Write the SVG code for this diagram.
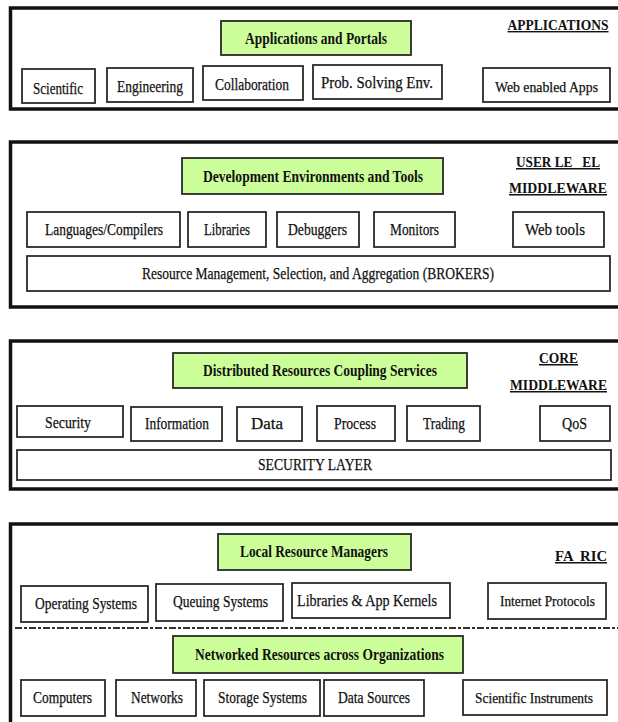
<svg xmlns="http://www.w3.org/2000/svg" width="618" height="722" viewBox="0 0 618 722">
<style>
.bg{fill:#ffffff}
.frame{fill:none;stroke:#111;stroke-width:3.5}
.box{fill:#ffffff;stroke:#2a2a2a;stroke-width:1.8}
.hl{fill:#ccff99;stroke:#2a2a2a;stroke-width:1.8}
text{text-anchor:middle}
.t{font-family:"Liberation Serif","Times New Roman",serif;font-size:17px;fill:#111;stroke:#111;stroke-width:0.25}
.tb{font-family:"Liberation Serif","Times New Roman",serif;font-size:16px;font-weight:bold;fill:#111}
.side{font-family:"Liberation Serif","Times New Roman",serif;font-size:15px;font-weight:bold;fill:#111;text-decoration:underline}
.sm{font-size:15px}
.sm14{font-size:14px}
.sep{stroke:#333;stroke-width:2.2;stroke-dasharray:7 2 3 2}
</style>
<rect class="bg" x="0" y="0" width="618" height="722"/>

<!-- Layer 1: Applications -->
<g id="layer-applications">
  <rect class="frame" x="10.5" y="8" width="615" height="101"/>
  <text class="side sm14" x="558" y="30" textLength="101" lengthAdjust="spacingAndGlyphs">APPLICATIONS</text>
</g>
<g id="applications-portals"><rect class="hl" x="221" y="21" width="190" height="34"/><text class="tb" x="316" y="44" textLength="142" lengthAdjust="spacingAndGlyphs">Applications and Portals</text></g>
<g id="scientific"><rect class="box" x="22" y="69" width="73" height="34"/><text class="t" x="58" y="94" textLength="50" lengthAdjust="spacingAndGlyphs">Scientific</text></g>
<g id="engineering"><rect class="box" x="107" y="68" width="86" height="34"/><text class="t" x="150" y="92" textLength="66" lengthAdjust="spacingAndGlyphs">Engineering</text></g>
<g id="collaboration"><rect class="box" x="203" y="66" width="100" height="34"/><text class="t" x="252" y="90" textLength="74" lengthAdjust="spacingAndGlyphs">Collaboration</text></g>
<g id="prob-solving"><rect class="box" x="313" y="65" width="129" height="34"/><text class="t" x="377" y="88" textLength="112" lengthAdjust="spacingAndGlyphs">Prob. Solving Env.</text></g>
<g id="web-apps"><rect class="box" x="483" y="68" width="127" height="34"/><text class="t sm" x="546.5" y="92" textLength="103" lengthAdjust="spacingAndGlyphs">Web enabled Apps</text></g>

<!-- Layer 2: User level middleware -->
<g id="layer-user-middleware">
  <rect class="frame" x="10.5" y="142" width="615" height="165"/>
  <text class="side" x="558" y="167" textLength="84" lengthAdjust="spacingAndGlyphs" xml:space="preserve">USER LE   EL</text>
  <text class="side" x="558" y="193" textLength="98" lengthAdjust="spacingAndGlyphs">MIDDLEWARE</text>
</g>
<g id="dev-env"><rect class="hl" x="182" y="158" width="261" height="36"/><text class="tb" x="313" y="182" textLength="220" lengthAdjust="spacingAndGlyphs">Development Environments and Tools</text></g>
<g id="languages"><rect class="box" x="27" y="212" width="153" height="35"/><text class="t" x="104" y="235" textLength="118" lengthAdjust="spacingAndGlyphs">Languages/Compilers</text></g>
<g id="libraries"><rect class="box" x="188" y="212" width="78" height="35"/><text class="t" x="227" y="235" textLength="46" lengthAdjust="spacingAndGlyphs">Libraries</text></g>
<g id="debuggers"><rect class="box" x="277" y="212" width="82" height="35"/><text class="t" x="317.5" y="235" textLength="59" lengthAdjust="spacingAndGlyphs">Debuggers</text></g>
<g id="monitors"><rect class="box" x="374" y="212" width="81" height="35"/><text class="t" x="414.5" y="235" textLength="49" lengthAdjust="spacingAndGlyphs">Monitors</text></g>
<g id="web-tools"><rect class="box" x="513" y="212" width="91" height="35"/><text class="t" x="555" y="235" textLength="60" lengthAdjust="spacingAndGlyphs">Web tools</text></g>
<g id="brokers"><rect class="box" x="27" y="256" width="583" height="35"/><text class="t" x="318" y="279" textLength="352" lengthAdjust="spacingAndGlyphs">Resource Management, Selection, and Aggregation (BROKERS)</text></g>

<!-- Layer 3: Core middleware -->
<g id="layer-core-middleware">
  <rect class="frame" x="10.5" y="341" width="615" height="148"/>
  <text class="side" x="558.5" y="363" textLength="39" lengthAdjust="spacingAndGlyphs">CORE</text>
  <text class="side" x="558.5" y="390" textLength="97" lengthAdjust="spacingAndGlyphs">MIDDLEWARE</text>
</g>
<g id="coupling-services"><rect class="hl" x="173" y="353" width="294" height="35"/><text class="tb" x="320" y="376" textLength="234" lengthAdjust="spacingAndGlyphs">Distributed Resources Coupling Services</text></g>
<g id="security"><rect class="box" x="17" y="406" width="106" height="31"/><text class="t" x="68" y="428" textLength="46" lengthAdjust="spacingAndGlyphs">Security</text></g>
<g id="information"><rect class="box" x="131" y="407" width="91" height="34"/><text class="t" x="177" y="429" textLength="64" lengthAdjust="spacingAndGlyphs">Information</text></g>
<g id="data"><rect class="box" x="237" y="407" width="65" height="34"/><text class="t" x="267" y="429" textLength="32" lengthAdjust="spacingAndGlyphs">Data</text></g>
<g id="process"><rect class="box" x="317" y="406" width="78" height="35"/><text class="t" x="355" y="429" textLength="42" lengthAdjust="spacingAndGlyphs">Process</text></g>
<g id="trading"><rect class="box" x="407" y="406" width="73" height="35"/><text class="t" x="444" y="429" textLength="42" lengthAdjust="spacingAndGlyphs">Trading</text></g>
<g id="qos"><rect class="box" x="540" y="406" width="70" height="35"/><text class="t" x="574.5" y="429" textLength="25" lengthAdjust="spacingAndGlyphs">QoS</text></g>
<g id="security-layer"><rect class="box" x="17" y="450" width="594" height="30"/><text class="t" x="315" y="470" textLength="114" lengthAdjust="spacingAndGlyphs">SECURITY LAYER</text></g>

<!-- Layer 4: Fabric -->
<g id="layer-fabric">
  <rect class="frame" x="10.5" y="524" width="615" height="210"/>
  <text class="side" x="581" y="561" textLength="52" lengthAdjust="spacingAndGlyphs" xml:space="preserve">FA  RIC</text>
</g>
<g id="local-resource-managers"><rect class="hl" x="218" y="534" width="193" height="36"/><text class="tb" x="314" y="557" textLength="148" lengthAdjust="spacingAndGlyphs">Local Resource Managers</text></g>
<g id="operating-systems"><rect class="box" x="21" y="586" width="127" height="36"/><text class="t" x="86" y="609" textLength="102" lengthAdjust="spacingAndGlyphs">Operating Systems</text></g>
<g id="queuing-systems"><rect class="box" x="156" y="584" width="127" height="37"/><text class="t" x="220.5" y="607" textLength="95" lengthAdjust="spacingAndGlyphs">Queuing Systems</text></g>
<g id="app-kernels"><rect class="box" x="292" y="583" width="158" height="35"/><text class="t" x="367" y="606" textLength="140" lengthAdjust="spacingAndGlyphs">Libraries &amp; App Kernels</text></g>
<g id="internet-protocols"><rect class="box" x="488" y="583" width="118" height="36"/><text class="t sm" x="547.5" y="606" textLength="95" lengthAdjust="spacingAndGlyphs">Internet Protocols</text></g>
<g id="networked-resources"><rect class="hl" x="173" y="636" width="290" height="37"/><text class="tb" x="319.5" y="660" textLength="249" lengthAdjust="spacingAndGlyphs">Networked Resources across Organizations</text></g>
<g id="computers"><rect class="box" x="21" y="680" width="84" height="36"/><text class="t" x="62.5" y="703" textLength="59" lengthAdjust="spacingAndGlyphs">Computers</text></g>
<g id="networks"><rect class="box" x="116" y="680" width="80" height="36"/><text class="t" x="157" y="703" textLength="52" lengthAdjust="spacingAndGlyphs">Networks</text></g>
<g id="storage-systems"><rect class="box" x="204" y="680" width="116" height="36"/><text class="t" x="262.5" y="703" textLength="89" lengthAdjust="spacingAndGlyphs">Storage Systems</text></g>
<g id="data-sources"><rect class="box" x="324" y="680" width="100" height="36"/><text class="t" x="374" y="703" textLength="72" lengthAdjust="spacingAndGlyphs">Data Sources</text></g>
<g id="scientific-instruments"><rect class="box" x="463" y="680" width="144" height="35"/><text class="t sm" x="534" y="703" textLength="118" lengthAdjust="spacingAndGlyphs">Scientific Instruments</text></g>

<g id="connectors">
  <line class="sep" x1="15" y1="628" x2="618" y2="628"/>
</g>
</svg>
